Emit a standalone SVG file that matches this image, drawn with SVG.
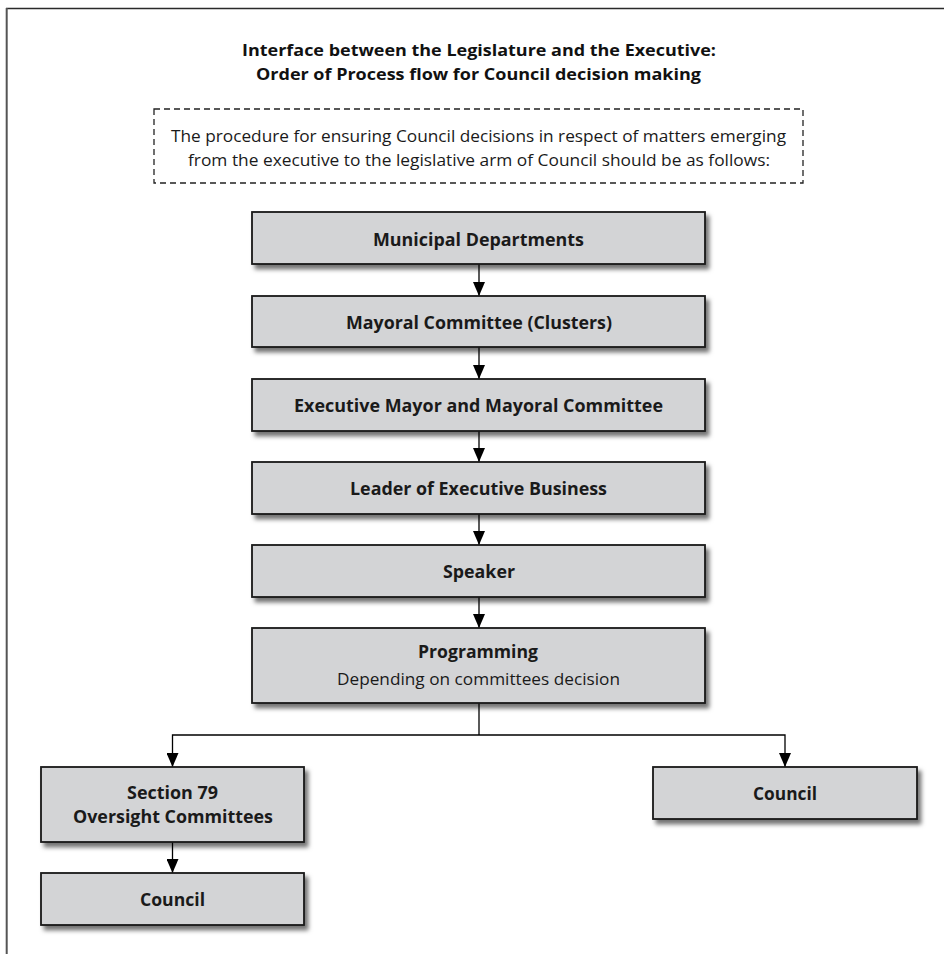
<svg xmlns="http://www.w3.org/2000/svg" width="944" height="954" viewBox="0 0 944 954">
  <defs>
    <filter id="shadow" x="-5%" y="-10%" width="115%" height="140%">
      <feDropShadow dx="3.5" dy="4.5" stdDeviation="2.2" flood-color="#000" flood-opacity="0.55"/>
    </filter>
    <marker id="arrow" viewBox="0 0 14 12" refX="14" refY="6" markerWidth="14" markerHeight="12" markerUnits="userSpaceOnUse" orient="auto">
      <path d="M0,0 L14,6 L0,12 z" fill="#000"/>
    </marker>
  </defs>
  <style>
    .box { fill: #d3d4d6; stroke: #1a1a1a; stroke-width: 1.8; filter: url(#shadow); }
    .b { font-family: "Open Sans", "Noto Sans", sans-serif; font-weight: bold; font-size: 17.5px; fill: #1a1a1a; text-anchor: middle; }
    .r { font-family: "Open Sans", "Noto Sans", sans-serif; font-weight: normal; font-size: 17px; fill: #1a1a1a; text-anchor: middle; }
    .t { font-family: "Open Sans", "Noto Sans", sans-serif; font-weight: bold; font-size: 16.5px; fill: #111; text-anchor: middle; }
    .d { font-family: "Open Sans", "Noto Sans", sans-serif; font-weight: normal; font-size: 16.5px; fill: #1a1a1a; text-anchor: middle; }
    .conn { stroke: #000; stroke-width: 1.3; fill: none; }
  </style>

  <rect x="0" y="0" width="944" height="954" fill="#fff"/>

  <g id="frame">
    <line x1="6" y1="8.5" x2="944" y2="8.5" stroke="#2a2a2a" stroke-width="1.5"/>
    <line x1="6.7" y1="8" x2="6.7" y2="954" stroke="#555" stroke-width="2"/>
  </g>

  <g id="title">
    <text class="t" x="479" y="56" textLength="474" lengthAdjust="spacingAndGlyphs">Interface between the Legislature and the Executive:</text>
    <text class="t" x="478.5" y="80" textLength="445" lengthAdjust="spacingAndGlyphs">Order of Process flow for Council decision making</text>
  </g>

  <g id="intro">
    <rect x="154" y="109" width="649" height="74" fill="none" stroke="#222" stroke-width="1.3" stroke-dasharray="6,4"/>
    <text class="d" x="478.5" y="142" textLength="615" lengthAdjust="spacingAndGlyphs">The procedure for ensuring Council decisions in respect of matters emerging</text>
    <text class="d" x="479" y="166" textLength="582" lengthAdjust="spacingAndGlyphs">from the executive to the legislative arm of Council should be as follows:</text>
  </g>

  <g id="connectors">
    <line class="conn" x1="479" y1="264" x2="479" y2="296" marker-end="url(#arrow)"/>
    <line class="conn" x1="479" y1="347" x2="479" y2="379" marker-end="url(#arrow)"/>
    <line class="conn" x1="479" y1="431" x2="479" y2="462" marker-end="url(#arrow)"/>
    <line class="conn" x1="479" y1="514" x2="479" y2="545" marker-end="url(#arrow)"/>
    <line class="conn" x1="479" y1="597" x2="479" y2="628" marker-end="url(#arrow)"/>
    <line class="conn" x1="479" y1="703" x2="479" y2="735"/>
    <polyline class="conn" points="479,735 172.5,735 172.5,767" marker-end="url(#arrow)"/>
    <polyline class="conn" points="479,735 785,735 785,767" marker-end="url(#arrow)"/>
    <line class="conn" x1="172.5" y1="842" x2="172.5" y2="873" marker-end="url(#arrow)"/>
  </g>

  <g id="municipal-departments">
    <rect class="box" x="252" y="212" width="453" height="52"/>
    <text class="b" x="478.5" y="246" textLength="211" lengthAdjust="spacingAndGlyphs">Municipal Departments</text>
  </g>
  <g id="mayoral-committee">
    <rect class="box" x="252" y="296" width="453" height="51"/>
    <text class="b" x="479" y="329" textLength="266" lengthAdjust="spacingAndGlyphs">Mayoral Committee (Clusters)</text>
  </g>
  <g id="executive-mayor">
    <rect class="box" x="252" y="379" width="453" height="52"/>
    <text class="b" x="478.5" y="412" textLength="369" lengthAdjust="spacingAndGlyphs">Executive Mayor and Mayoral Committee</text>
  </g>
  <g id="leader">
    <rect class="box" x="252" y="462" width="453" height="52"/>
    <text class="b" x="478.5" y="495" textLength="257" lengthAdjust="spacingAndGlyphs">Leader of Executive Business</text>
  </g>
  <g id="speaker">
    <rect class="box" x="252" y="545" width="453" height="52"/>
    <text class="b" x="479" y="578" textLength="72" lengthAdjust="spacingAndGlyphs">Speaker</text>
  </g>
  <g id="programming">
    <rect class="box" x="252" y="628" width="453" height="75"/>
    <text class="b" x="478" y="658" textLength="120" lengthAdjust="spacingAndGlyphs">Programming</text>
    <text class="r" x="478.5" y="685" textLength="283" lengthAdjust="spacingAndGlyphs">Depending on committees decision</text>
  </g>
  <g id="section-79">
    <rect class="box" x="41" y="767" width="263" height="75"/>
    <text class="b" x="172.5" y="799" textLength="91" lengthAdjust="spacingAndGlyphs">Section 79</text>
    <text class="b" x="173" y="823" textLength="200" lengthAdjust="spacingAndGlyphs">Oversight Committees</text>
  </g>
  <g id="council-left">
    <rect class="box" x="41" y="873" width="263" height="52"/>
    <text class="b" x="172.5" y="906" textLength="65" lengthAdjust="spacingAndGlyphs">Council</text>
  </g>
  <g id="council-right">
    <rect class="box" x="653" y="767" width="264" height="52"/>
    <text class="b" x="785" y="800" textLength="64" lengthAdjust="spacingAndGlyphs">Council</text>
  </g>
</svg>
